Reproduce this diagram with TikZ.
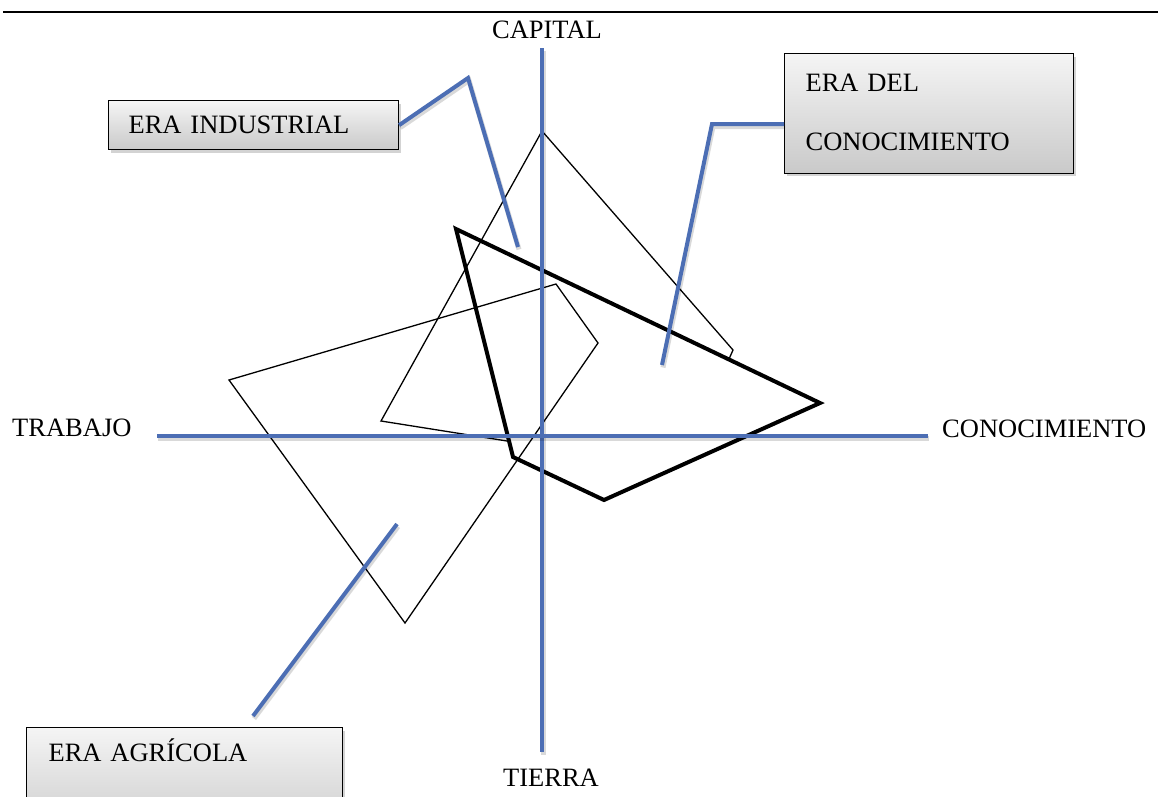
\documentclass[tikz,border=0pt]{standalone}
\usepackage{fontspec}
\setmainfont{Liberation Serif}
\usetikzlibrary{shadows}
\definecolor{axisblue}{RGB}{76,110,180}
\tikzset{
  lbl/.style={inner sep=0pt, font=\fontsize{26.5}{31}\selectfont},
  erabox/.style={draw=black, line width=1.2pt, shade, top color=gray!8, bottom color=gray!42,
    drop shadow={shadow xshift=2.5pt, shadow yshift=-3pt, opacity=0.35},
    align=left, font=\fontsize{26.5}{31}\selectfont},
  blueline/.style={draw=axisblue, line width=4pt,
    preaction={draw=black, opacity=0.15, line width=5pt, transform canvas={xshift=1pt, yshift=-2.5pt}}},
  thinpoly/.style={draw=black, line width=1.3pt, line join=miter},
  thickpoly/.style={draw=black, line width=4pt, line join=miter},
}
\begin{document}
\begin{tikzpicture}[x=1pt, y=-1pt]
\useasboundingbox (0,0) rectangle (1158,796);

% rule across the top
\draw[line width=1.5pt] (3,12) -- (1158,12);

% era polygons
\draw[thinpoly] (229,380) -- (556,284) -- (598,343) -- (405,623) -- cycle;
\draw[thinpoly] (507,441) -- (381,421) -- (542,131) -- (733,350) -- (729,359);
\draw[thickpoly] (456,229) -- (820,403) -- (604,500) -- (513,457) -- cycle;

% axes
\coordinate (ytop) at (542,48);
\coordinate (ybot) at (542,752);
\coordinate (xleft) at (157,436);
\coordinate (xright) at (928,436);
\draw[blueline] (ytop) -- (ybot);
\draw[blueline] (xleft) -- (xright);

% axis labels
\node[lbl, anchor=base] (capital) at (547,38) {CAPITAL};
\node[lbl, anchor=base] (tierra) at (551,786) {TIERRA};
\node[lbl, anchor=base west] (trabajo) at (12,436) {TRABAJO};
\node[lbl, anchor=base west] (conoc) at (942,437) {CONOCIMIENTO};

% era boxes
\node[erabox, anchor=north west, text width=250pt, inner xsep=20pt, minimum height=49pt] (ind) at (108,100) {ERA INDUSTRIAL};
\node[erabox, anchor=north west, text width=247pt, inner xsep=21pt, inner ysep=20pt,
      font=\fontsize{26.5}{59}\selectfont] (con) at (784,53) {ERA DEL\\CONOCIMIENTO\rule[-3pt]{0pt}{3pt}};
\node[erabox, anchor=north west, text width=272pt, inner xsep=22pt, inner ysep=16pt,
      text height=18pt, text depth=60pt] (agr) at (26,727) {ERA AGRÍCOLA};

% leader lines
\coordinate (indbend) at (468,78);
\coordinate (indtip) at (518,247);
\draw[blueline, line join=miter] (ind.east) -- (indbend) -- (indtip);

\coordinate (conbend) at (712,124);
\coordinate (contip) at (662,365);
\draw[blueline, line join=miter] (conbend -| con.west) -- (conbend) -- (contip);

\coordinate (agrstart) at (253,716);
\coordinate (agrtip) at (397,524);
\draw[blueline] (agrstart) -- (agrtip);
\end{tikzpicture}
\end{document}
